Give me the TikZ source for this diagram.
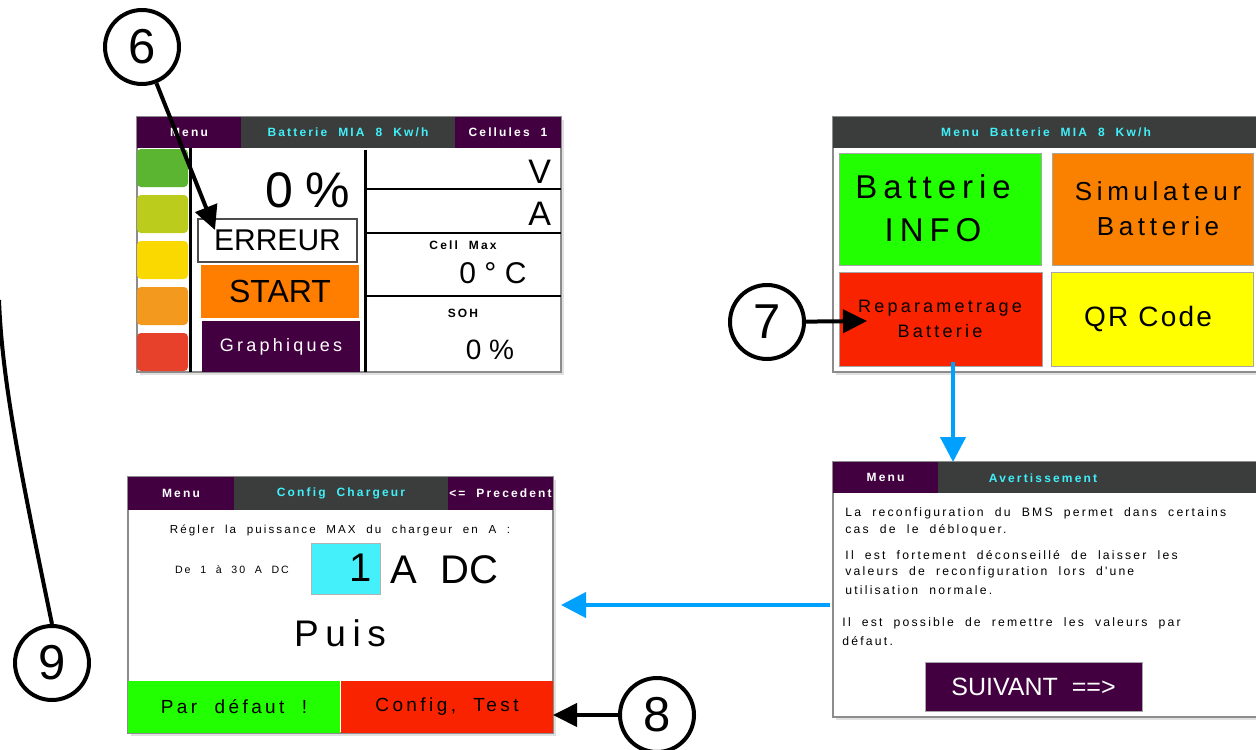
\documentclass[tikz,border=0pt]{standalone}
\usepackage{fontspec}
\setmainfont{Liberation Sans}
\newfontfamily\scrfont{Liberation Sans}[LetterSpace=18,WordSpace=2]
\newfontfamily\widefont{Liberation Sans}[LetterSpace=8]
\usetikzlibrary{arrows.meta,shadows}
\definecolor{scrpurple}{HTML}{420040}
\definecolor{hdrgray}{HTML}{3A3D3B}
\definecolor{scrcyan}{HTML}{40F0FA}
\definecolor{framegray}{HTML}{8C8C8C}
\definecolor{btngreen}{HTML}{22FF00}
\definecolor{btnorange}{HTML}{FA8000}
\definecolor{btnred}{HTML}{FA2300}
\definecolor{btnyellow}{HTML}{FFFF00}
\definecolor{boxcyan}{HTML}{44F0FA}
\definecolor{startorange}{HTML}{FF7E00}
\definecolor{flowblue}{HTML}{00A0FF}
\definecolor{barA}{HTML}{5CB531}
\definecolor{barB}{HTML}{BCCC1C}
\definecolor{barC}{HTML}{F9D900}
\definecolor{barD}{HTML}{F39A1E}
\definecolor{barE}{HTML}{E8412B}
\begin{document}
\begin{tikzpicture}[x=0.5pt,y=-0.5pt,
	pane/.style 2 args={rectangle,anchor=north west,inner sep=0pt,outer sep=0pt,
		minimum width=#1*0.5pt,minimum height=#2*0.5pt},
	frame/.style={draw=framegray,line width=0.6pt,fill=white,
		drop shadow={shadow xshift=1.5pt,shadow yshift=-1.5pt,opacity=.12,fill=black}},
	btn/.style={draw=black!35,line width=0.4pt},
	hdr/.style={font=\scrfont\bfseries\fontsize{6}{7}\selectfont},
	smalltxt/.style={font=\scrfont\fontsize{6.1}{7.4}\selectfont},
	callnum/.style={circle,draw,line width=2pt,minimum size=37pt,inner sep=0pt,
		font=\fontsize{24.5}{26}\selectfont},
	callout/.style={line width=2pt,-{Triangle[length=12pt,width=11.5pt]}},
	flow/.style={draw=flowblue,line width=2pt,-{Triangle[length=12.5pt,width=12.5pt]}}]
	\useasboundingbox (0,0) rectangle (1256,749);
	% ecran batterie
	\node[pane={424}{255},frame] (batt) at (137,117) {};
	\node[pane={104}{31},fill=scrpurple,hdr,text=white] at (137,117) {Menu};
	\node[pane={214}{31},fill=hdrgray,hdr,text=scrcyan] at (241,117) {Batterie MIA 8 Kw/h};
	\node[pane={106}{31},fill=scrpurple,hdr,text=white] at (455,117) {Cellules 1};
	\foreach \y/\c in {149/barA,195/barB,241/barC,287/barD,333/barE}
		\fill[\c,rounded corners=2pt] (137,\y) rectangle ++(51,38);
	\draw[line width=1.5pt] (190,148)--(190,372);
	\draw[line width=1.5pt] (365,150)--(365,372);
	\foreach \y in {189,233,296}
		\draw[line width=1pt] (366,\y)--(561,\y);
	\node[anchor=east,font=\fontsize{25}{26}\selectfont] (soc) at (357,190) {0\hspace{6pt}\%};
	\node[pane={159}{43},fill=white,draw=black!70,line width=0.6pt,
		font=\fontsize{15}{16}\selectfont] (err) at (198,219) {ERREUR};
	\node[pane={158}{53},fill=startorange,font=\fontsize{16}{17}\selectfont] (start) at (201,265) {START};
	\node[pane={158}{51},fill=scrpurple,text=white,
		font=\scrfont\fontsize{9}{10}\selectfont] (graph) at (202,321) {Graphiques};
	\node[anchor=east,font=\fontsize{17}{18}\selectfont] (volt) at (558,172) {V};
	\node[anchor=east,font=\fontsize{17}{18}\selectfont] (amp) at (558,214) {A};
	\node[hdr] (cmax) at (463,245) {Cell Max};
	\node[font=\fontsize{15}{16}\selectfont] (temp) at (493,273) {0 ° C};
	\node[hdr] (soh) at (463,313) {SOH};
	\node[font=\fontsize{14}{15}\selectfont] (sohval) at (490,350) {0 \%};
	% ecran menu
	\node[pane={426}{255},frame] (menu) at (833,117) {};
	\node[pane={426}{31},fill=hdrgray,hdr,text=scrcyan] at (833,117) {Menu Batterie MIA 8 Kw/h};
	\node[pane={202}{112},btn,fill=btngreen] (info) at (839,153) {};
	\node[pane={201}{112},btn,fill=btnorange] (simu) at (1052,153) {};
	\node[pane={203}{94},btn,fill=btnred] (repar) at (839,272) {};
	\node[pane={202}{94},btn,fill=btnyellow] (qr) at (1051,272) {};
	\node[align=center,font=\scrfont\fontsize{16.5}{21.5}\selectfont] at (933,208) {Batterie\\INFO};
	\node[align=center,font=\scrfont\fontsize{13}{17.5}\selectfont] at (1158,209) {Simulateur\\Batterie};
	\node[align=center,font=\scrfont\fontsize{9}{12.5}\selectfont] at (940,319) {Reparametrage\\Batterie};
	\node[font=\widefont\fontsize{14}{15}\selectfont] at (1148,319) {QR Code};
	% ecran avertissement
	\node[pane={426}{255},frame] (warn) at (833,462) {};
	\node[pane={105}{31},fill=scrpurple,hdr,text=white] at (833,462) {Menu};
	\node[pane={321}{31},fill=hdrgray] at (938,462) {};
	\node[hdr,text=scrcyan] at (1043,478) {Avertissement};
	\foreach \x/\y/\t in {845/513/La reconfiguration du BMS permet dans certains,
		845/530/cas de le débloquer.,
		845/555/Il est fortement déconseillé de laisser les,
		845/572/valeurs de reconfiguration lors d'une,
		845/590/utilisation normale.,
		842/623/Il est possible de remettre les valeurs par,
		842/641/défaut.}
		\node[smalltxt,anchor=west,inner sep=0pt] at (\x,\y) {\t};
	\node[pane={217}{49},btn,fill=scrpurple,text=white,
		font=\fontsize{12.5}{13}\selectfont] (next) at (925,662) {SUIVANT\ \ ==>};
	% ecran config chargeur
	\node[pane={425}{256},frame] (charge) at (128,477) {};
	\node[pane={106}{33},fill=scrpurple,hdr,text=white] at (128,477) {Menu};
	\node[pane={214}{33},fill=hdrgray,hdr,text=scrcyan] at (234,477) {Config Chargeur};
	\node[pane={105}{33},fill=scrpurple,hdr,text=white] at (448,477) {<= Precedent};
	\node[font=\scrfont\fontsize{5.8}{7}\selectfont] at (340,530) {Régler la puissance MAX du chargeur en A :};
	\node[font=\scrfont\fontsize{5.3}{7}\selectfont] at (232,570) {De 1 à 30 A DC};
	\node[pane={69}{51},fill=boxcyan,draw=black!30,line width=0.4pt] (val) at (311,543) {};
	\node[anchor=east,font=\fontsize{20}{21}\selectfont] at (379,568) {1};
	\node[anchor=west,font=\fontsize{20}{21}\selectfont] at (383,570) {A\hspace{12pt}DC};
	\node[font=\scrfont\fontsize{18.5}{19}\selectfont] at (340,633) {Puis};
	\node[pane={212}{52},fill=btngreen,font=\scrfont\fontsize{9.5}{10}\selectfont] (defaut) at (128,681) {Par défaut !};
	\node[pane={212}{52},fill=btnred,font=\scrfont\fontsize{9.5}{10}\selectfont] (test) at (341,681) {Config, Test};
	% reperes
	\node[callnum] (n6) at (142,47) {6};
	\node[callnum] (n7) at (767,322) {7};
	\node[callnum] (n8) at (657,715) {8};
	\node[callnum] (n9) at (52,663) {9};
	\coordinate (tipA) at (215,230);
	\coordinate (tipB) at (867,321);
	\coordinate (endC) at (-1,300);
	\draw[callout] (n6)--(tipA);
	\draw[callout] (n7)--(tipB);
	\draw[callout] (n8)--(n8 -| test.east);
	\draw[line width=2pt] (n9.north) .. controls (20,470) and (2,380) .. (endC);
	% fleches bleues
	\coordinate (flowA) at (953,362);
	\coordinate (flowB) at (830,605);
	\draw[flow] (flowA)--(flowA |- warn.north);
	\draw[flow,shorten >=4pt] (flowB)--(flowB -| charge.east);
\end{tikzpicture}
\end{document}
